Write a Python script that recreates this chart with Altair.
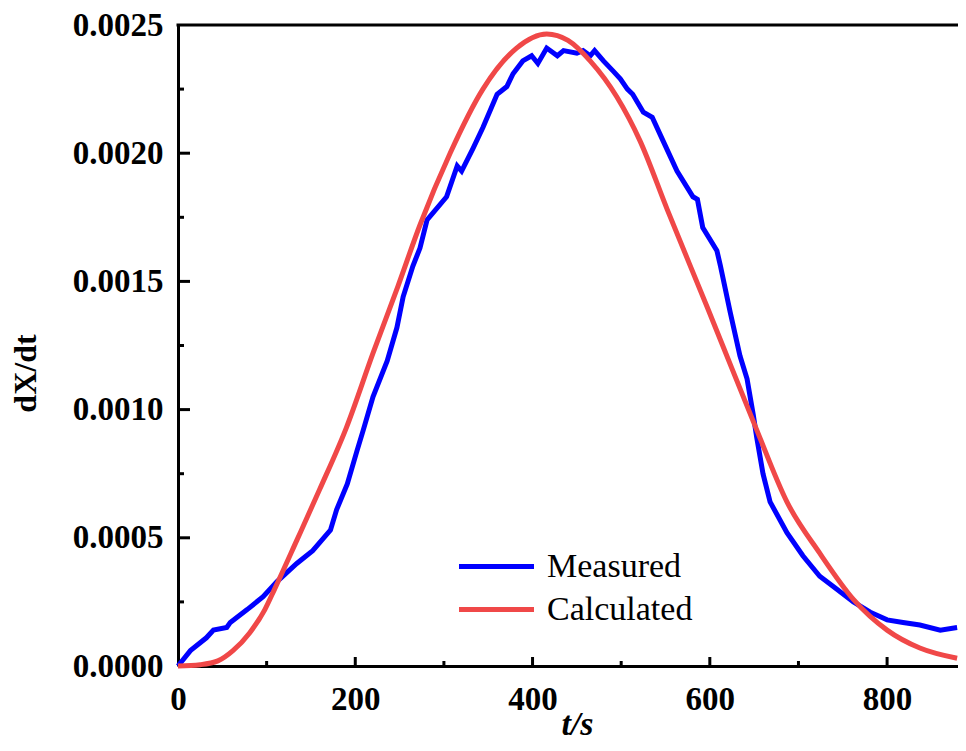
import altair as alt
import pandas as pd

# ---- data ----
meas_t = [0, 14, 32, 40, 55, 59, 78, 96, 112, 134, 152, 172, 179, 191, 202, 209, 220, 236, 247, 254,
          265, 273, 281, 303, 315, 320, 333, 344, 360, 371, 378, 389, 399, 406, 416, 428, 435, 450, 457,
          465, 470, 480, 491, 499, 507, 513, 525, 535, 547, 563, 581, 586, 592, 608, 612, 623, 634, 642,
          649, 653, 660, 668, 687, 705, 724, 743, 762, 781, 800, 818, 837, 860, 879]
meas_v = [0.0, 0.00006, 0.00011, 0.00014, 0.00015, 0.00017, 0.00022, 0.00027, 0.00033, 0.00040,
          0.00045, 0.00053, 0.00061, 0.00071, 0.00084, 0.00092, 0.00105, 0.00119, 0.00132, 0.00144,
          0.00156, 0.00163, 0.00174, 0.00183, 0.00195, 0.00193, 0.00202, 0.00210, 0.00223, 0.00226,
          0.00231, 0.00236, 0.00238, 0.00235, 0.00241, 0.00238, 0.00240, 0.00239, 0.00240, 0.00238,
          0.00240, 0.00236, 0.00232, 0.00229, 0.00225, 0.00223, 0.00216, 0.00214, 0.00205, 0.00193,
          0.00183, 0.00182, 0.00171, 0.00162, 0.00156, 0.00138, 0.00121, 0.00112, 0.00098, 0.00089,
          0.00075, 0.00064, 0.00052, 0.00043, 0.00035, 0.00030, 0.00025, 0.00021, 0.00018, 0.00017,
          0.00016, 0.00014, 0.00015]

calc_t = [0, 25, 45, 62, 81, 98, 109, 134, 160, 190, 220, 248, 273, 307, 344, 382, 416, 440, 465,
          495, 521, 552, 597, 625, 653, 687, 724, 762, 800, 837, 879]
calc_v = [0.0, 0.000005, 0.00002, 0.00006, 0.00013, 0.00022, 0.00030, 0.00049, 0.00069, 0.00093,
          0.00122, 0.00148, 0.00172, 0.00200, 0.00225, 0.00241, 0.002465, 0.00244, 0.00236, 0.00222,
          0.00205, 0.00178, 0.00140, 0.00116, 0.00092, 0.00064, 0.00044, 0.00026, 0.00014, 0.00007,
          0.00003]

series_names = ["Measured", "Calculated"]
series_colors = ["#0000ff", "#f04848"]

x_labels = [0, 200, 400, 600, 800]
x_major = [200, 400, 600, 800]
x_minor = [100, 300, 500, 700]
y_labels = [0.0, 0.0005, 0.0010, 0.0015, 0.0020, 0.0025]
y_major = [0.0005, 0.0010, 0.0015, 0.0020]
y_minor = [0.00025, 0.00075, 0.00125, 0.00175, 0.00225]

W, H = 780, 641
FONT = "Liberation Serif"

meas = pd.DataFrame({"t": meas_t, "v": meas_v, "series": series_names[0]})
calc = pd.DataFrame({"t": calc_t, "v": calc_v, "series": series_names[1]})

xscale = alt.Scale(domain=[0, 880], nice=False, zero=False)
yscale = alt.Scale(domain=[0, 0.0025], nice=False)
cscale = alt.Scale(domain=series_names, range=series_colors)

common_axis = dict(labelFont=FONT, labelFontSize=33, labelFontWeight="bold", labelColor="black",
                   titleFont=FONT, titleFontWeight="bold", titleColor="black",
                   domainColor="black", domainWidth=3, ticks=False, grid=False,
                   labelFlush=False, labelOverlap=False)

xaxis = alt.Axis(values=x_labels, format="d", title="t/s", titleFontStyle="italic",
                 titleFontSize=34, labelPadding=17, titleX=399, titleY=68,
                 titleBaseline="alphabetic", titleAlign="center", **common_axis)
yaxis = alt.Axis(values=y_labels, format=".4f", title="dX/dt", titleFontSize=32, labelPadding=15,
                 titleX=-136, titleY=348, titleAlign="center", titleBaseline="bottom",
                 titleAngle=270, **common_axis)

legend = alt.Legend(orient="none", legendX=297, legendY=520, title=None, direction="vertical",
                    symbolType="M-2,0L2,0", symbolSize=1406, symbolStrokeWidth=5,
                    labelFont=FONT, labelFontSize=34, labelColor="black", rowPadding=4,
                    labelOffset=29)

X = alt.X("t:Q", scale=xscale, axis=xaxis)
Y = alt.Y("v:Q", scale=yscale, axis=yaxis)

blue = alt.Chart(meas).mark_line(strokeWidth=5).encode(
    x=X, y=Y, color=alt.Color("series:N", scale=cscale, legend=legend),
)
red = alt.Chart(calc).mark_line(strokeWidth=5, interpolate="monotone").encode(
    x=X, y=Y, color=alt.Color("series:N", scale=cscale, legend=legend),
)

xmaj = alt.Chart(pd.DataFrame({"t": x_major})).mark_rule(strokeWidth=3, color="black").encode(
    x=X, y=alt.value(H), y2=alt.value(H - 9))
xmin = alt.Chart(pd.DataFrame({"t": x_minor})).mark_rule(strokeWidth=3, color="black").encode(
    x=X, y=alt.value(H), y2=alt.value(H - 5))
ymaj = alt.Chart(pd.DataFrame({"v": y_major})).mark_rule(strokeWidth=3, color="black").encode(
    y=Y, x=alt.value(0), x2=alt.value(12))
ymin = alt.Chart(pd.DataFrame({"v": y_minor})).mark_rule(strokeWidth=3, color="black").encode(
    y=Y, x=alt.value(0), x2=alt.value(6))
top = alt.Chart(pd.DataFrame({"v": [0.0025]})).mark_rule(strokeWidth=3, color="black").encode(
    y=Y, x=alt.value(-1.5), x2=alt.value(W))

chart = alt.layer(blue, red, xmaj, xmin, ymaj, ymin, top).properties(
    width=W, height=H,
    padding={"left": 170, "top": 17, "right": 0, "bottom": 76},
    autosize=alt.AutoSizeParams(type="none"),
    background="white",
).configure_view(stroke=None)

chart.save("out.html", embed_options={"renderer": "svg", "actions": False})
